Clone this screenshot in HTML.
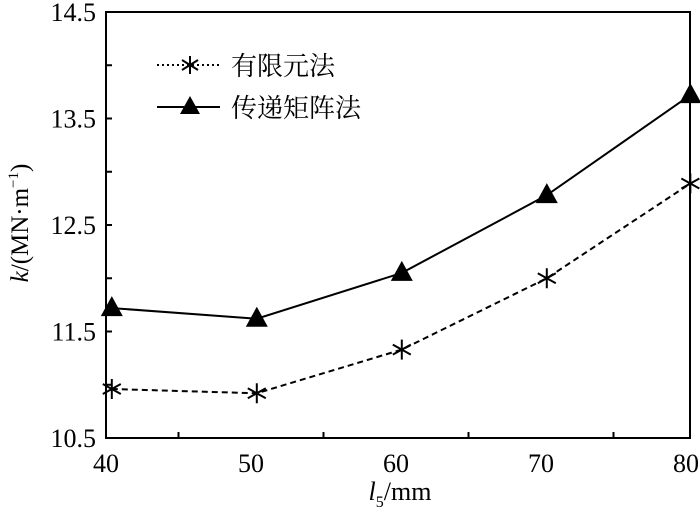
<!DOCTYPE html>
<html><head><meta charset="utf-8"><style>
body{margin:0;background:#fff}
svg{display:block;font-family:"Liberation Serif","Noto Serif CJK SC",serif}
</style></head><body>
<svg id="c" width="700" height="513" viewBox="0 0 700 513" xmlns="http://www.w3.org/2000/svg">
<g id="axes"></g>
<g id="series"></g>
<g id="legend">
  <line x1="157" y1="65" x2="220" y2="65" stroke="#000" stroke-width="2" stroke-dasharray="2,3"/>
  <g stroke="#000" stroke-width="2">
    <line x1="190" y1="56" x2="190" y2="74"/><line x1="182" y1="60" x2="198" y2="70"/><line x1="182" y1="70" x2="198" y2="60"/>
  </g>
  <text x="231" y="75" font-size="26">有限元法</text>
  <line x1="157" y1="107" x2="220" y2="107" stroke="#000" stroke-width="2"/>
  <polygon points="190,96 200,114 180,114" fill="#000"/>
  <text x="231" y="117" font-size="26">传递矩阵法</text>
</g>
<text transform="translate(28,223) rotate(-90)" text-anchor="middle" font-size="25"><tspan font-style="italic">k</tspan>/(MN·m<tspan font-size="15" dy="-10">−1</tspan><tspan dy="10">)</tspan></text>
<text x="400" y="500" text-anchor="middle" font-size="26"><tspan font-style="italic">l</tspan><tspan font-size="16" dy="7">5</tspan><tspan dy="-7">/mm</tspan></text>
</svg>
<script>
const xCats=[40.4,50.4,60.4,70.4,80.3];
const femValues=[10.96,10.92,11.33,12.0,12.89];
const tmmValues=[11.72,11.62,12.05,12.78,13.72];
const xTicks=[40,50,60,70,80];
const yTicks=[10.5,11.5,12.5,13.5,14.5];
const X0=106,X1=686,Y0=438,Y1=12;
const sx=v=>X0+(v-40)/40*(X1-X0);
const sy=v=>Y0-(v-10.5)/4*(Y0-Y1);
const NS='http://www.w3.org/2000/svg';
function mk(tag,attrs,parent){const e=document.createElementNS(NS,tag);for(const k in attrs)e.setAttribute(k,attrs[k]);parent.appendChild(e);return e;}
const ax=document.getElementById('axes');
const frame=mk('rect',{x:X0,y:Y1,width:690-X0,height:Y0-Y1,fill:'none',stroke:'#000','stroke-width':2},ax);


xTicks.forEach((t,i)=>{
  const tx=mk('text',{x:sx(t),y:472,'text-anchor':'middle','font-size':26},ax);tx.textContent=t;
  
  
  if(i<xTicks.length-1){const m=mk('line',{x1:sx(t+5),x2:sx(t+5),y1:Y0,y2:Y0-6,stroke:'#000','stroke-width':2},ax);
  
  }
});
yTicks.forEach((t,i)=>{
  const tx=mk('text',{x:96,y:sy(t)+9,'text-anchor':'end','font-size':26},ax);tx.textContent=t.toFixed(1);
  
  
  if(i>0){const m=mk('line',{x1:X0,x2:X0+6,y1:sy(t),y2:sy(t),stroke:'#000','stroke-width':2},ax);
  
  }
  if(i<yTicks.length-1){const m=mk('line',{x1:X0,x2:X0+6,y1:sy(t+0.5),y2:sy(t+0.5),stroke:'#000','stroke-width':2},ax);
  
  }
});
const sg=document.getElementById('series');
const femLine=mk('polyline',{points:xCats.map((x,i)=>sx(x)+','+sy(femValues[i])).join(' '),fill:'none',stroke:'#000','stroke-width':2,'stroke-dasharray':'6,4'},sg);


const tmmLine=mk('polyline',{points:xCats.map((x,i)=>sx(x)+','+sy(tmmValues[i])).join(' '),fill:'none',stroke:'#000','stroke-width':2},sg);


xCats.forEach((x,i)=>{
  const cx=sx(x),cy=sy(femValues[i]);
  const g=mk('g',{stroke:'#000','stroke-width':2},sg);
  
  
  mk('line',{x1:cx,y1:cy-10,x2:cx,y2:cy+10},g);
  mk('line',{x1:cx-9,y1:cy-5,x2:cx+9,y2:cy+5},g);
  mk('line',{x1:cx-9,y1:cy+5,x2:cx+9,y2:cy-5},g);
  const ty=sy(tmmValues[i]);
  const p=mk('polygon',{points:`${cx},${ty-12} ${cx+11},${ty+8} ${cx-11},${ty+8}`,fill:'#000'},sg);
  
  
});
</script>
</body></html>
